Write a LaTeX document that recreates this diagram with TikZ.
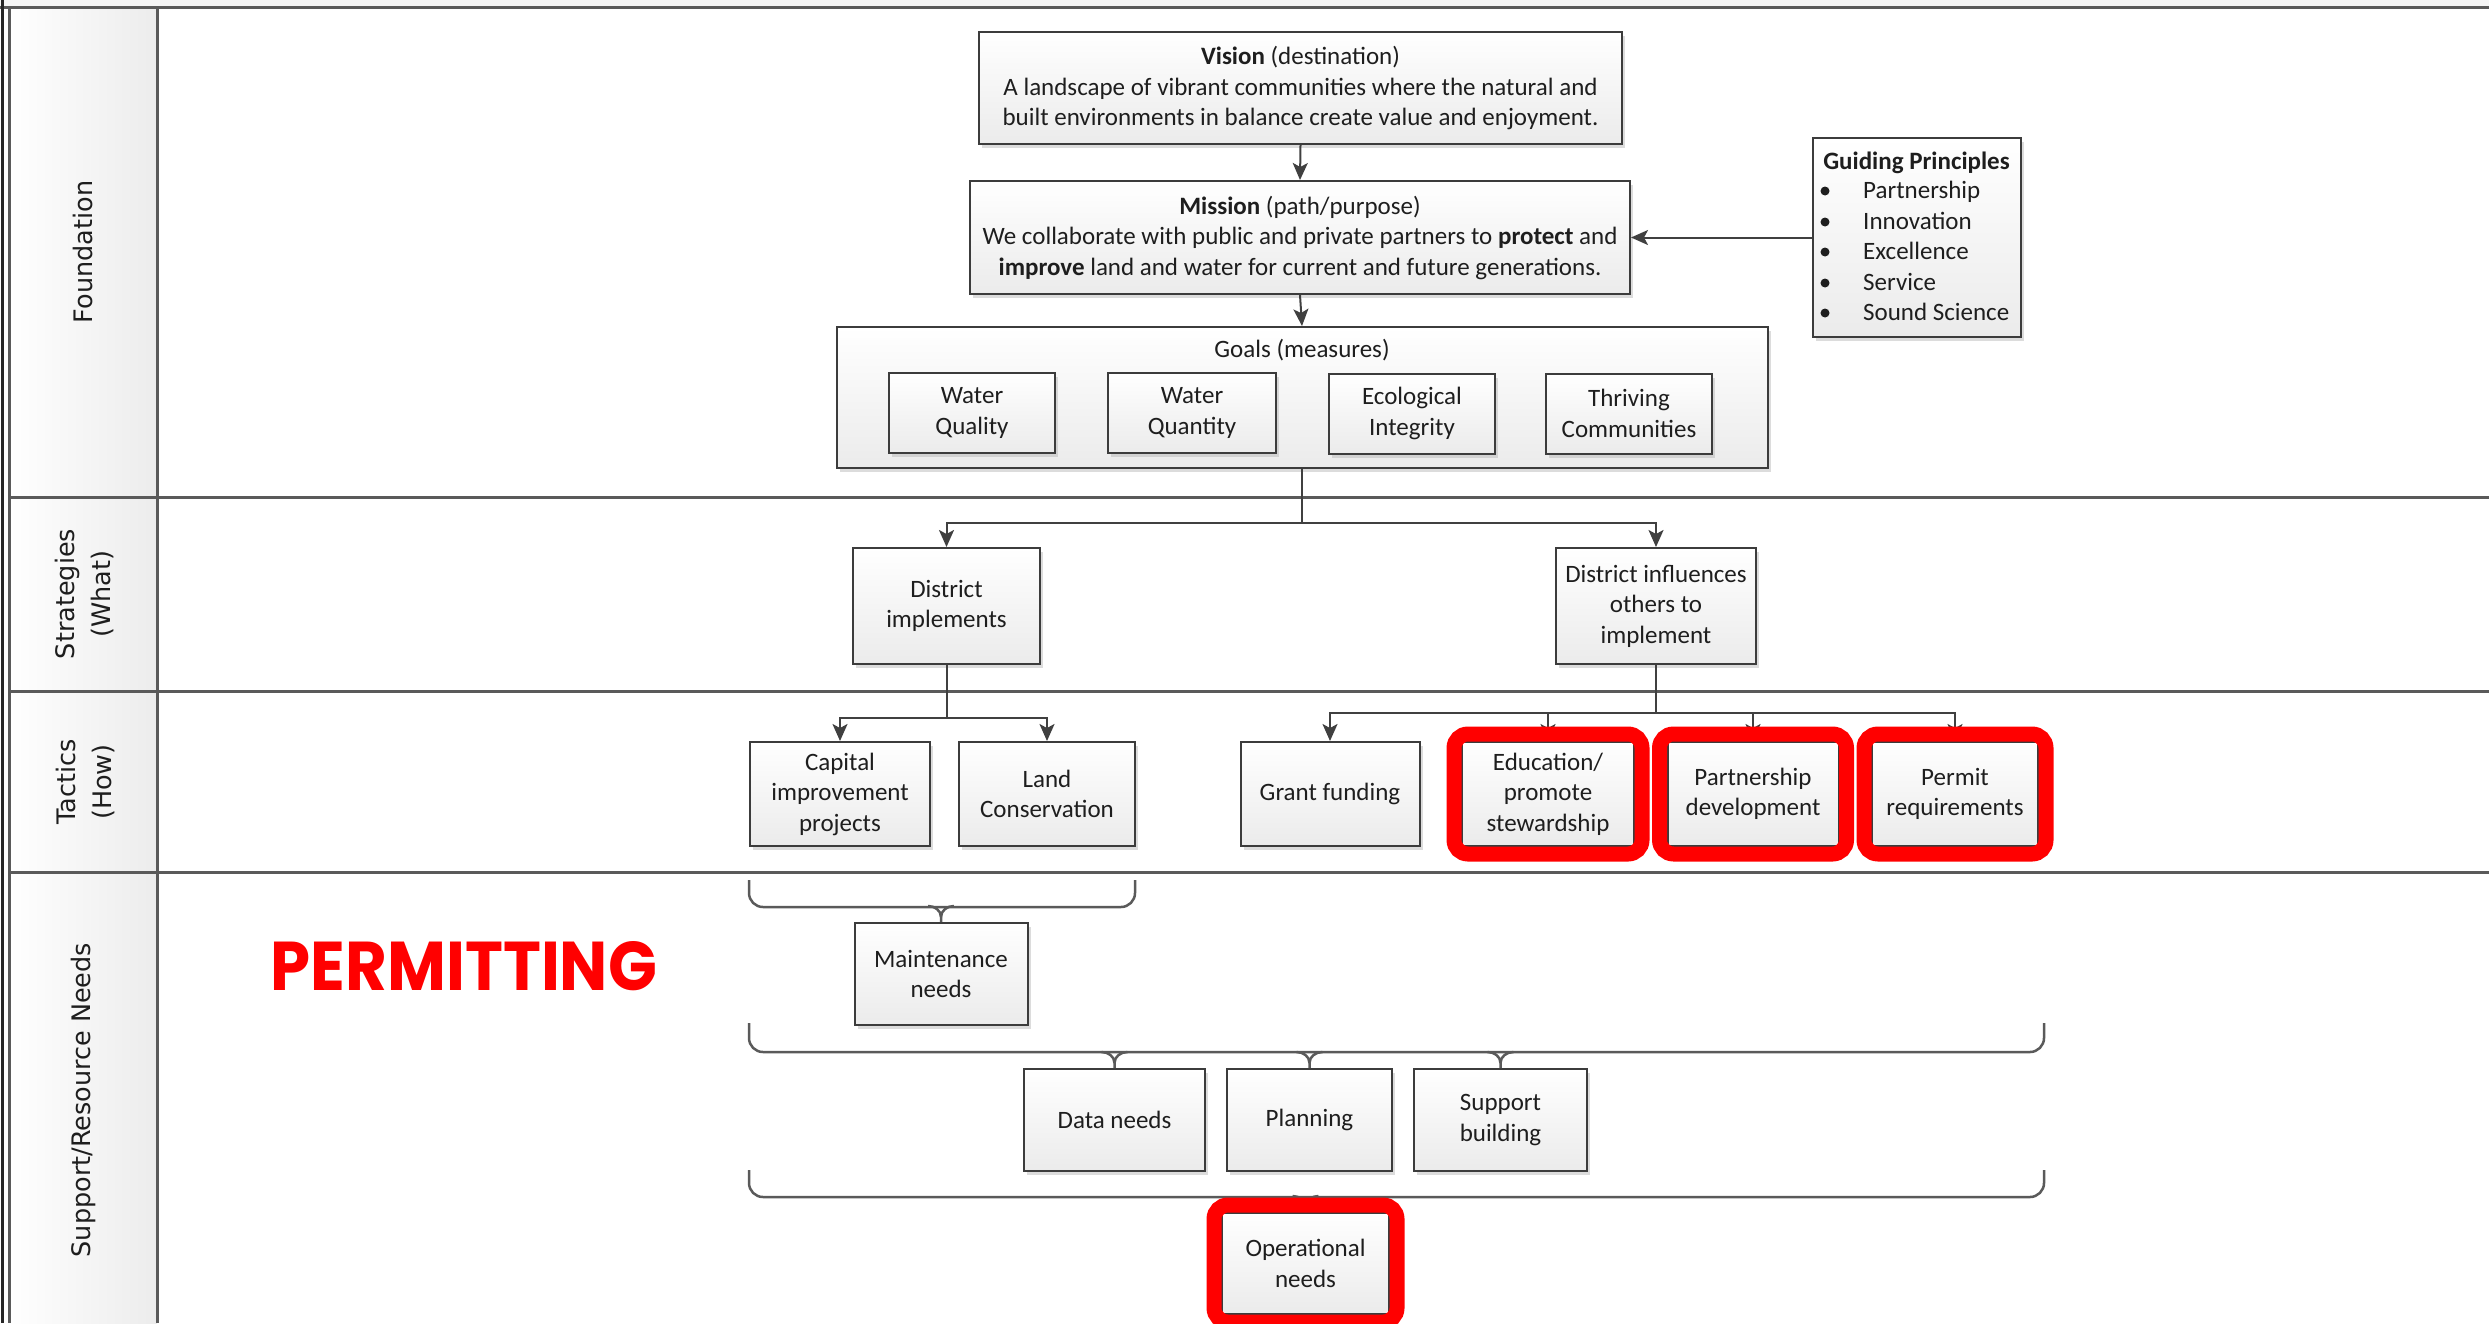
\documentclass[tikz,border=0pt]{standalone}
\usepackage{fontspec}
\setmainfont{Carlito}
\newfontfamily\hdrfont{DejaVu Sans}
\newfontfamily\stampfont{Poppins}
\usetikzlibrary{arrows.meta,shadows,calc,fit}

\definecolor{boxline}{HTML}{3C3C3C}
\definecolor{boxbot}{HTML}{EBEBEB}
\definecolor{laneline}{HTML}{5A5A5A}
\definecolor{arrcol}{HTML}{404040}
\definecolor{txt}{HTML}{1E1E1E}
\definecolor{hdrgray}{HTML}{ECECEC}
\definecolor{redmark}{HTML}{FF0000}

% small Y-shaped tip joining a brace bar to the box below it
\newcommand{\bracetip}[1]{%
  \draw[brace] ($(#1.north)+(-13,-16)$) to[out=0,in=90] ($(#1.north)+(0,-5)$) -- (#1.north);
  \draw[brace] ($(#1.north)+(13,-16)$) to[out=180,in=90] ($(#1.north)+(0,-5)$);}

\begin{document}
\begin{tikzpicture}[x=1pt,y=-1pt,
  box/.style={draw=boxline, line width=2pt, top color=white, bottom color=boxbot,
    text=txt, align=center, inner sep=0pt, font=\fontsize{25}{30.5}\selectfont,
    drop shadow={shadow xshift=3pt, shadow yshift=-4pt, fill=black!30, opacity=0.45}},
  wh/.style 2 args={minimum width=#1pt, minimum height=#2pt},
  plain/.style={text=txt, inner sep=0pt, font=\fontsize{25}{30.5}\selectfont},
  hdr/.style={rotate=90, text=txt, align=center, inner sep=0pt,
    font=\hdrfont\fontsize{25.5}{36}\selectfont},
  lane/.style={draw=laneline, line width=3pt},
  link/.style={draw=arrcol, line width=2pt},
  arr/.style={link, -{Stealth[length=17pt,width=15pt,inset=4pt]}},
  brace/.style={draw=laneline, line width=2.5pt},
  hl/.style={draw=redmark, line width=15pt, rounded corners=14pt, inner sep=7pt},
]
\useasboundingbox (0,0) rectangle (2489,1323);

% ---------- swimlane frame ----------
\fill[gray!8] (0,0) rectangle (2489,7);
\shade[left color=white, right color=hdrgray] (9,7) rectangle (157,1323);
\draw[lane] (0,7) -- (2489,7);
\draw[line width=3pt, black!85] (2,0) -- (2,1323);
\draw[lane] (9,7) -- (9,1323);
\draw[lane] (157,7) -- (157,1323);
\draw[lane] (9,497) -- (2489,497);
\draw[lane] (9,691) -- (2489,691);
\draw[lane] (9,872) -- (2489,872);

\node[hdr] (hfound) at (83,252) {Foundation};
\node[hdr] (hstrat) at (84,594) {Strategies\\(What)};
\node[hdr] (htact)  at (85,782) {Tactics\\(How)};
\node[hdr] (hsupp)  at (83,1100) {Support/Resource Needs};

% ---------- foundation ----------
\node[box, wh={643}{112}] (vision) at (1300.5,88)
  {\textbf{Vision} (destination)\\A landscape of vibrant communities where the natural and\\built environments in balance create value and enjoyment.};
\node[box, wh={660}{113}] (mission) at (1300,237.5)
  {\textbf{Mission} (path/purpose)\\We collaborate with public and private partners to \textbf{protect} and\\\textbf{improve} land and water for current and future generations.};
\node[box, wh={931}{141}] (goals) at (1302,397.5) {};
\node[plain] (goalstitle) at (1302,350) {Goals (measures)};
\node[box, wh={166}{80}] (wql) at (972,413) {Water\\Quality};
\node[box, wh={168}{80}] (wqn) at (1192,413) {Water\\Quantity};
\node[box, wh={166}{80}] (eco) at (1412,413.5) {Ecological\\Integrity};
\node[box, wh={166}{80}] (thr) at (1629,413.5) {Thriving\\Communities};

\node[box, wh={208}{199}] (gp) at (1917,237.5) {};
\node[plain, anchor=base] (gptitle) at (1916.5,169) {\textbf{Guiding Principles}};
\foreach \t/\yy [count=\i] in {Partnership/191, Innovation/222, Excellence/252, Service/283, Sound Science/313}{
  \fill[txt] (1825,\yy) circle[radius=4.5pt];
  \node[plain, anchor=base west] (gpitem\i) at (1863,\yy+7) {\t};
}

\draw[arr] (vision.south) -- (mission.north);
\draw[arr] (mission.south) -- (goals.north);
\draw[arr] (gp.west) -- (gp.west -| mission.east);

% ---------- strategies ----------
\node[box, wh={187}{116}] (dimpl) at (946.5,606) {District\\implements};
\node[box, wh={200}{116}] (dinfl) at (1656,606) {District influences\\others to\\implement};
\coordinate (js) at ($(goals.south)+(0,54)$);
\draw[link] (goals.south) -- (js);
\draw[arr] (js) -| (dimpl.north);
\draw[arr] (js) -| (dinfl.north);

% ---------- tactics ----------
\node[box, wh={180}{104}] (capital) at (840,794) {Capital\\improvement\\projects};
\node[box, wh={176}{104}] (land) at (1047,794) {Land\\Conservation};
\node[box, wh={179}{104}] (grant) at (1330,794) {Grant funding};
\node[box, wh={172}{104}] (edu) at (1548,794) {Education/\\promote\\stewardship};
\node[box, wh={171}{104}] (partner) at (1753,794) {Partnership\\development};
\node[box, wh={166}{104}] (permit) at (1955,794) {Permit\\requirements};

\coordinate (jt1) at ($(dimpl.south)+(0,53)$);
\draw[link] (dimpl.south) -- (jt1);
\draw[arr] (jt1) -| (capital.north);
\draw[arr] (jt1) -| (land.north);
\coordinate (jt2) at ($(dinfl.south)+(0,48)$);
\draw[link] (dinfl.south) -- (jt2);
\draw[arr] (jt2) -| (grant.north);
\draw[arr] (jt2) -| (edu.north);
\draw[arr] (jt2) -| (partner.north);
\draw[arr] (jt2) -| (permit.north);

% ---------- support / resource needs ----------
\node[box, wh={173}{102}] (maint) at (941,974) {Maintenance\\needs};
\node[box, wh={181}{102}] (data) at (1114.5,1120) {Data needs};
\node[box, wh={165}{102}] (plan) at (1309.5,1120) {Planning};
\node[box, wh={173}{102}] (supp) at (1500.5,1120) {Support\\building};
\node[box, wh={167}{101}] (oper) at (1305.5,1263.5) {Operational\\needs};

\draw[brace, rounded corners=14pt] (749,880) |- (1135,907) -- (1135,880);
\bracetip{maint}
\draw[brace, rounded corners=14pt] (749,1023) |- (2044,1052) -- (2044,1023);
\bracetip{data}
\bracetip{plan}
\bracetip{supp}
\draw[brace, rounded corners=14pt] (749,1170) |- (2044,1197) -- (2044,1170);
\bracetip{oper}

% ---------- highlights ----------
\node[hl, fit=(edu)] (eduhl) {};
\node[hl, fit=(partner)] (partnerhl) {};
\node[hl, fit=(permit)] (permithl) {};
\node[hl, fit=(oper)] (operhl) {};

\node[text=redmark, inner sep=0pt] (stamp) at (464,966.5)
  {\resizebox{386pt}{49pt}{\stampfont\bfseries PERMITTING}};
\end{tikzpicture}
\end{document}
